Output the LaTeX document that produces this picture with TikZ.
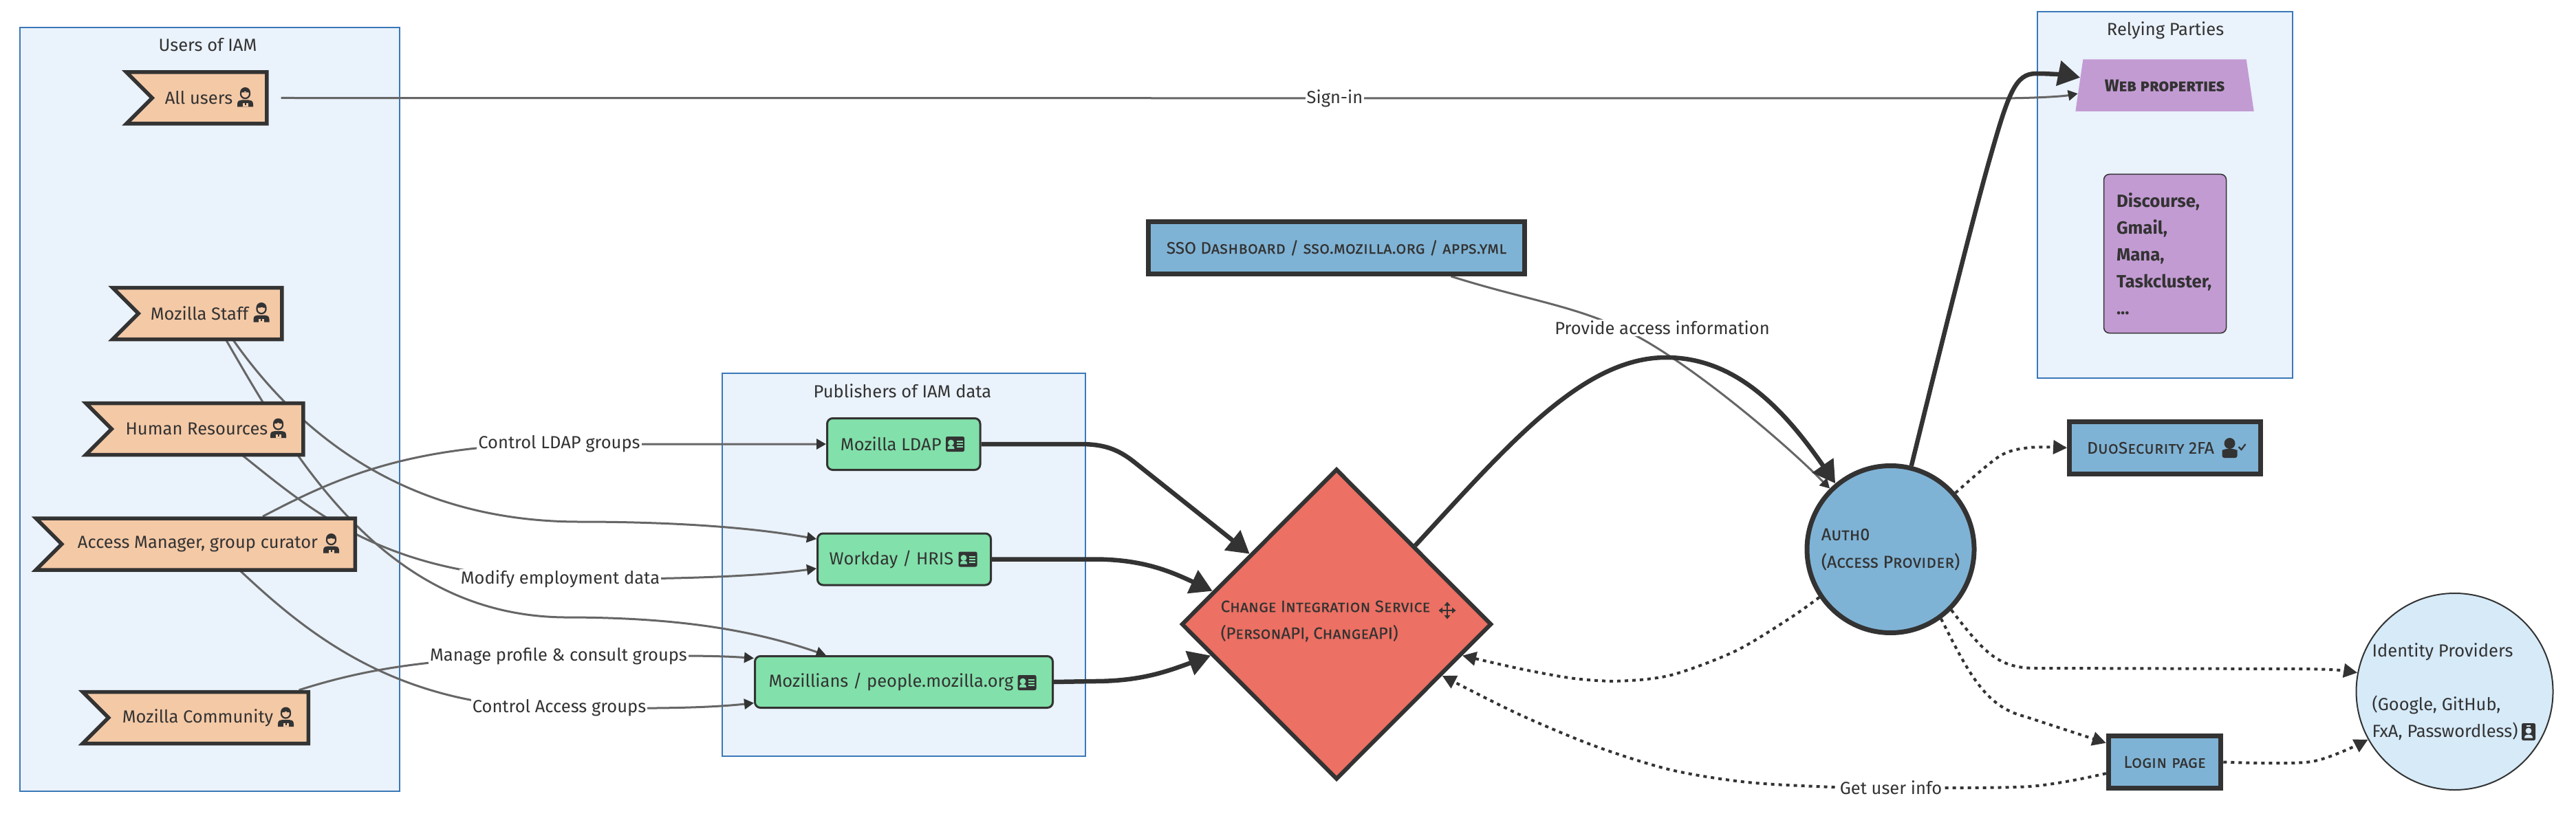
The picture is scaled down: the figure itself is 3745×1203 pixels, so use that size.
\documentclass[tikz,border=0pt]{standalone}
\usepackage{fontspec}
\setmainfont{Fira Sans}
\newfontfamily\capsfont[Letters=SmallCaps,FakeBold=0.15]{Fira Sans}
\usetikzlibrary{positioning,calc,shapes.geometric,shapes.symbols,arrows.meta}
\pgfdeclarelayer{clusterlayer}
\pgfdeclarelayer{edgelayer}
\pgfsetlayers{clusterlayer,edgelayer,main}
\definecolor{ink}{HTML}{333333}
\definecolor{edgegray}{HTML}{666666}
\definecolor{clusterfill}{HTML}{EAF2FB}
\definecolor{clusterline}{HTML}{3A78B8}
\definecolor{userfill}{HTML}{F4C9A6}
\definecolor{greenfill}{HTML}{82E0AA}
\definecolor{bluefill}{HTML}{7FB3D5}
\definecolor{redfill}{HTML}{EC7063}
\definecolor{purplefill}{HTML}{C39BD3}
\definecolor{idpfill}{HTML}{D6EAF8}
\tikzset{
	plain/.style={text=ink, inner sep=0pt, font=\fontsize{12.75}{19.5}\selectfont},
	clusterbox/.style={rectangle, draw=clusterline, fill=clusterfill, line width=1pt},
	edgelabel/.style={plain, fill=white, inner xsep=1pt, inner ysep=1pt},
	banner/.style={plain, signal, signal to=nowhere, signal from=west, signal pointer angle=90, draw=ink, fill=userfill, line width=2.75pt, minimum height=37.5pt},
	publisher/.style={plain, rectangle, rounded corners=4pt, draw=ink, fill=greenfill, line width=1.5pt, minimum height=37.5pt},
	service/.style={plain, rectangle, draw=ink, fill=bluefill, line width=3.5pt, minimum height=38pt, font=\capsfont\fontsize{12.2}{19.5}\selectfont},
	thinedge/.style={draw=edgegray, line width=1.5pt, -{Stealth[inset=0pt,length=7pt,width=7.5pt,color=ink]}},
	thickedge/.style={draw=ink, line width=3.25pt, -{Stealth[inset=0pt,length=16pt,width=18pt]}},
	dotedge/.style={draw=ink, line width=2pt, dash pattern=on 2.5pt off 3pt, -{Stealth[inset=0pt,length=10pt,width=10pt]}},
	nurseicon/.pic={
		\draw[ink, line width=1.1pt] (0,-6) circle[radius=3.3pt];
		\fill[ink] (-7.5,-8) arc[start angle=180, end angle=0, radius=3.75pt] -- cycle;
		\fill[userfill] (-1.5,-9) rectangle (1.5,-8);
		\fill[ink] (-11.5,13) -- (-11.5,9) .. controls (-11.5,4) and (-8,3) .. (-5,3) -- (5,3) .. controls (8,3) and (11.5,4) .. (11.5,9) -- (11.5,13) -- cycle;
		\fill[userfill] (-4,8) rectangle (4,13);
		\fill[ink] (-1,8) rectangle (1,11);
	},
	cardicon/.pic={
		\fill[ink, rounded corners=1.2pt] (-13.5,-11) rectangle (13.5,11);
		\fill[greenfill] (-6,-2) circle[radius=2.2pt];
		\fill[greenfill] (-11,7) .. controls (-11,3) and (-9,2) .. (-6,2) .. controls (-3,2) and (-1,3) .. (-1,7) -- cycle;
		\foreach \ypos in {-4,0,4}
			\fill[greenfill] (2,\ypos-1) rectangle (11,\ypos+1);
	},
	checkicon/.pic={
		\fill[ink] (-6,-7) circle[radius=4pt];
		\fill[ink, rounded corners=1.5pt] (-17,14) -- (-17,6) .. controls (-17,3) and (-13,1) .. (-6,1) .. controls (1,1) and (5,3) .. (5,6) -- (5,14) -- cycle;
		\draw[ink, line width=1.1pt] (7,-2) -- (11,2) -- (17,-6);
	},
	badgeicon/.pic={
		\fill[ink, rounded corners=1.2pt] (-10,-12.5) rectangle (10,12.5);
		\fill[idpfill] (-3,-9.5) rectangle (3,-7.5);
		\fill[idpfill] (0,-1.5) circle[radius=2.2pt];
		\fill[idpfill] (-6,9) .. controls (-6,5) and (-3,4) .. (0,4) .. controls (3,4) and (6,5) .. (6,9) -- cycle;
	},
	moveicon/.pic={
		\draw[ink, line width=1.2pt] (-9,0) -- (9,0) (0,-9) -- (0,9);
		\foreach \tipangle in {0,90,180,270}
			\fill[ink, rotate=\tipangle] (12.5,0) -- (7,-4.5) -- (7,4.5) -- cycle;
	}
}
\begin{document}
\begin{tikzpicture}[x=0.5pt, y=-0.5pt]
	\useasboundingbox (0,0) rectangle (3745,1203);
	\begin{pgfonlayer}{clusterlayer}
		\node[clusterbox, minimum width=276pt, minimum height=555.5pt] (usersbox) at (304.75,595.5) {};
		\node[clusterbox, minimum width=264pt, minimum height=278.5pt] (publishersbox) at (1314,821.5) {};
		\node[clusterbox, minimum width=185.5pt, minimum height=266.5pt] (partiesbox) at (3147.5,283.5) {};
	\end{pgfonlayer}
	\node[plain] (userstitle) at (302,65) {Users of IAM};
	\node[plain] (publisherstitle) at (1312,569) {Publishers of IAM data};
	\node[plain] (partiestitle) at (3148,44) {Relying Parties};
	\node[banner, minimum width=102pt] (allusers) at (304.5,142.5) {All users\hspace*{15.5pt}};
	\node[banner, minimum width=123pt] (staff) at (305.5,456) {Mozilla Staff\hspace*{15.5pt}};
	\node[banner, minimum width=158pt] (hr) at (301.5,624) {Human Resources\hspace*{15.5pt}};
	\node[banner, minimum width=232pt] (manager) at (303,791.5) {Access Manager, group curator\hspace*{15.5pt}};
	\node[banner, minimum width=164pt] (community) at (303,1044) {Mozilla Community\hspace*{15.5pt}};
	\node[publisher, minimum width=111.25pt] (ldap) at (1313.75,646) {Mozilla LDAP\hspace*{18.5pt}};
	\node[publisher, minimum width=126pt] (workday) at (1314.5,813.5) {Workday / HRIS\hspace*{18.5pt}};
	\node[publisher, minimum width=216.5pt] (mozillians) at (1314,992) {Mozillians / people.mozilla.org\hspace*{18.5pt}};
	\node[service, minimum width=273.5pt] (sso) at (1943,360.5) {SSO Dashboard / sso.mozilla.org / apps.yml};
	\node[service, minimum width=139pt] (duo) at (3147.5,651.5) {DuoSecurity 2FA\hspace*{21pt}};
	\node[service, minimum width=81.75pt] (login) at (3147,1108.5) {Login page};
	\node[diamond, plain, draw=ink, fill=redfill, line width=3pt, minimum width=225.5pt, minimum height=226pt, font=\capsfont\fontsize{12}{19.5}\selectfont] (cis) at (1943,908) {\smash{\makebox[0pt]{\begin{tabular}{@{}l@{}}Change Integration Service\hspace*{16pt}\\(PersonAPI, ChangeAPI)\end{tabular}}}};
	\node[circle, plain, draw=ink, fill=bluefill, line width=3.5pt, minimum size=121.5pt, align=left, font=\capsfont\fontsize{12.5}{20}\selectfont] (auth) at (2748.5,799) {Auth0\\(Access Provider)};
	\node[circle, plain, draw=ink, fill=idpfill, line width=1pt, minimum size=143pt, align=left] (idp) at (3568.5,1006) {Identity Providers\\[19.5pt](Google, GitHub,\\FxA, Passwordless)\hspace*{14pt}};
	\node[trapezium, plain, trapezium stretches=true, trapezium left angle=65, trapezium right angle=65, fill=purplefill, minimum width=131pt, minimum height=37.75pt, font=\capsfont\bfseries\fontsize{12.2}{19.5}\selectfont] (web) at (3147,124.25) {Web properties};
	\node[plain, rectangle, rounded corners=4pt, draw=ink, fill=purplefill, line width=.75pt, minimum width=89pt, minimum height=115.5pt, text width=70.5pt, align=left, font=\bfseries\fontsize{12.9}{19.5}\selectfont] (apps) at (3147.5,369) {Discourse,\\Gmail,\\Mana,\\Taskcluster,\\...};
	\pic at (356.5,142.5) {nurseicon};
	\pic at (380,455.5) {nurseicon};
	\pic at (404.5,624) {nurseicon};
	\pic at (481.5,791.5) {nurseicon};
	\pic at (415.5,1044) {nurseicon};
	\pic at (1388.5,646) {cardicon};
	\pic at (1407,813.5) {cardicon};
	\pic at (1493,993) {cardicon};
	\pic at (3247.5,652) {checkicon};
	\pic at (3676,1064.5) {badgeicon};
	\pic at (2104,888) {moveicon};
	\node[edgelabel] (signin) at (1940.5,143) {Sign-in};
	\node[edgelabel] (ldaplabel) at (813,646) {Control LDAP groups};
	\node[edgelabel] (hrislabel) at (814.5,842.5) {Modify employment data};
	\node[edgelabel] (profilelabel) at (812,955) {Manage profile \& consult groups};
	\node[edgelabel] (accesslabel) at (813,1030) {Control Access groups};
	\node[edgelabel] (infolabel) at (2416.5,477) {Provide access information};
	\node[edgelabel] (userinfo) at (2749,1146) {Get user info};
	\begin{pgfonlayer}{edgelayer}
		\draw[thinedge] ([xshift=9pt]allusers.east) -- (2900,143) .. controls (2960,143) and (3000,140) .. ($(web.top left corner)!0.656!(web.bottom left corner)$);
		\draw[thinedge] (staff.-49) .. controls (420,610) and (570,758) .. (840,759) .. controls (960,759) and (1080,765) .. (workday.167.8);
		\draw[thinedge] (staff.-59) .. controls (430,670) and (560,895) .. (820,898) .. controls (980,898) and (1090,915) .. (mozillians.161.3);
		\draw[thinedge] (hr.-37) .. controls (450,740) and (560,840) .. (814,842) .. controls (960,843) and (1090,840) .. (workday.186.5);
		\draw[thinedge] (manager.27) .. controls (480,700) and (590,646) .. (813,646) -- (ldap.west);
		\draw[thinedge] (manager.-40) .. controls (450,925) and (580,1030) .. (813,1030) .. controls (900,1030) and (1010,1032) .. (mozillians.188.6);
		\draw[thinedge] (community.17.5) .. controls (510,980) and (610,955) .. (813,955) .. controls (930,955) and (1020,952) .. (mozillians.171.65);
		\draw[thinedge] (sso.-14) .. controls (2230,440) and (2300,445) .. (2387,493) .. controls (2470,540) and (2590,640) .. (auth.135.5);
		\draw[thickedge] (ldap.east) -- (1570,646) to[out=0, in=141] (1650,673) -- (cis.141.4);
		\draw[thickedge] (workday.east) -- (1590,813.5) to[out=0, in=155] (cis.165);
		\draw[thickedge] (mozillians.east) -- (1590,991) to[out=0, in=200] (cis.194.6);
		\draw[thickedge] (cis.45.7) .. controls (2190,650) and (2300,520) .. (2422,520) .. controls (2520,520) and (2590,590) .. (auth.130);
		\draw[thickedge] (auth.76.6) .. controls (2820,510) and (2870,310) .. (2893,230) .. controls (2920,135) and (2930,107) .. (2960,107) .. controls (2985,107) and (3010,110) .. ($(web.top left corner)!0.35!(web.bottom left corner)$);
		\draw[dotedge] plot[smooth] coordinates {(auth.41.7) (2907,663.5) (2950.6,651) (duo.west)};
		\draw[dotedge] plot[smooth] coordinates {(auth.214.6) (2601,900) (2523,947) (2429.5,982) (2353.6,990.7) (2286.6,986.7) (2210.7,973) (cis.-14.3)};
		\draw[dotedge] (auth.-45.8) .. controls (2885,950) and (2905,972) .. (2960,972) -- (3340,973) .. controls (3380,973) and (3405,975) .. (idp.169.6);
		\draw[dotedge] (auth.-54.7) .. controls (2860,975) and (2885,1028) .. (2943,1042) -- (login.162.2);
		\draw[dotedge] plot[smooth, tension=.5] coordinates {(login.east) (3360,1108) (idp.209.6)};
		\draw[dotedge] plot[smooth] coordinates {(login.191) (2950.6,1144) (2749,1146) (2666,1145) (2541,1138) (2429.5,1120) (2318,1085) (2206,1038) (cis.-26.7)};
	\end{pgfonlayer}
\end{tikzpicture}
\end{document}
